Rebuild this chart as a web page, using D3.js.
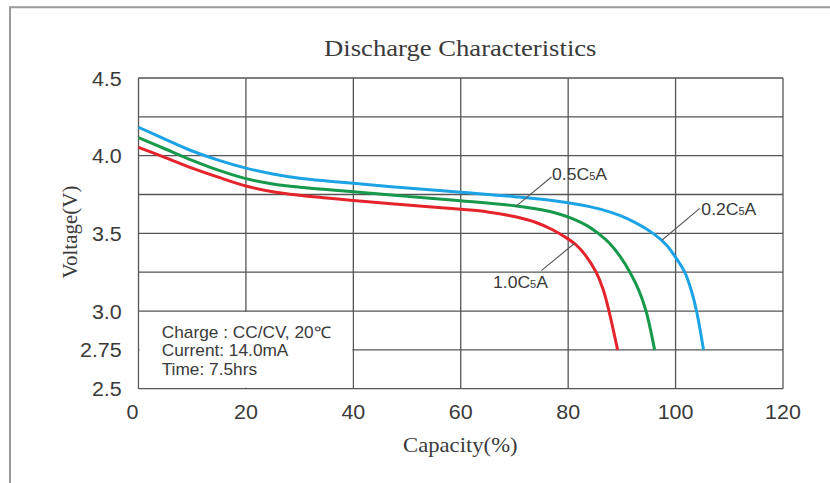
<!DOCTYPE html>
<html>
<head>
<meta charset="utf-8">
<script src="https://cdn.jsdelivr.net/npm/d3@7"></script>
<style>
  html, body { margin: 0; padding: 0; background: #fff; }
  svg { display: block; }
</style>
</head>
<body>
<svg id="chart" width="830" height="483"></svg>
<script>
// ---------- DATA ----------
const xTicks = [0, 20, 40, 60, 80, 100, 120];
const yGrid = [2.5, 2.75, 3.0, 3.25, 3.5, 3.75, 4.0, 4.25, 4.5];
const yTickLabels = ["4.5", "4.0", "3.5", "3.0", "2.75", "2.5"];

// 0.2C5A (blue)
const capBlue = [0, 5, 10, 15, 20, 25, 30, 35, 40, 50, 60, 70, 78, 84, 88, 91, 95.8, 98.3, 100.1, 101.7, 102.9, 103.9, 105.2];
const voltBlue = [4.183, 4.105, 4.03, 3.97, 3.92, 3.882, 3.855, 3.837, 3.822, 3.792, 3.764, 3.736, 3.707, 3.672, 3.635, 3.595, 3.50, 3.425, 3.34, 3.25, 3.135, 3.0, 2.75];
// 0.5C5A (green)
const capGreen = [0, 5, 10, 15, 20, 25, 30, 35, 40, 50, 60, 70, 75, 78, 81, 83.5, 85.6, 87.7, 89.7, 91.5, 93.2, 94.5, 96.1];
const voltGreen = [4.116, 4.043, 3.97, 3.905, 3.852, 3.818, 3.797, 3.782, 3.768, 3.738, 3.71, 3.678, 3.652, 3.628, 3.592, 3.55, 3.50, 3.436, 3.35, 3.25, 3.13, 3.0, 2.75];
// 1.0C5A (red)
const capRed = [0, 5, 10, 15, 20, 25, 30, 35, 40, 50, 60, 65, 70, 74, 77, 79.5, 81.5, 83.2, 85.2, 86.5, 87.6, 89.2];
const voltRed = [4.054, 3.988, 3.92, 3.86, 3.805, 3.768, 3.745, 3.728, 3.712, 3.682, 3.655, 3.638, 3.608, 3.57, 3.525, 3.475, 3.425, 3.36, 3.25, 3.14, 3.0, 2.75];

const seriesNames = ["0.2C5A", "0.5C5A", "1.0C5A"];
const seriesColors = ["#1ba3e6", "#16994b", "#e4232b"];

// annotation: [from cap, from V, to cap, to V, text cap, text V]
const annoBlue = [97.5, 3.457, 104.5, 3.661, 104.8, 3.618];
const annoGreen = [70.2, 3.672, 76.9, 3.863, 77.0, 3.843];
const annoRed = [81.2, 3.436, 75.0, 3.26, 66.0, 3.148];

const infoLines = ["Charge : CC/CV, 20\u2103", "Current: 14.0mA", "Time: 7.5hrs"];

// ---------- DRAW ----------
const svg = d3.select("#chart");
const x = d3.scaleLinear().domain([0, 120]).range([138.5, 783]);
const y = d3.scaleLinear().domain([2.5, 4.5]).range([388.7, 78]);
const SX = 1.1;
const gridColor = "#555";
const textColor = "#3a3a3a";

// outer frame
svg.append("path")
  .attr("d", "M10,483 L10,7.3 L830,7.3")
  .attr("fill", "none").attr("stroke", "#9a9a9a").attr("stroke-width", 2);

// grid
const g = svg.append("g");
g.selectAll("line.h").data(yGrid).enter().append("line")
  .attr("x1", x(0)).attr("x2", x(120))
  .attr("y1", d => y(d)).attr("y2", d => y(d))
  .attr("stroke", gridColor).attr("stroke-width", 1.3);
g.selectAll("line.v").data(xTicks).enter().append("line")
  .attr("x1", d => x(d)).attr("x2", d => x(d))
  .attr("y1", y(2.5)).attr("y2", y(4.5))
  .attr("stroke", gridColor).attr("stroke-width", 1.3);

// info box (white area hiding inner grid lines)
g.append("rect")
  .attr("x", x(0) + 1).attr("y", y(3.0) + 1)
  .attr("width", x(40) - x(0) - 2).attr("height", y(2.5) - y(3.0) - 2)
  .attr("fill", "#fff");

function txt(parent, px, py, str, opts) {
  const t = parent.append("text")
    .attr("transform", `translate(${px},${py}) scale(${opts.sx || SX},1)`)
    .attr("font-family", opts.family || "'Liberation Sans', Arial, sans-serif")
    .attr("font-size", opts.size)
    .attr("fill", textColor)
    .attr("text-anchor", opts.anchor || "start");
  if (str !== null) t.text(str);
  return t;
}

infoLines.forEach((s, i) => {
  txt(svg, 161.7, 337.7 + i * 18.7, s, { size: 16, sx: 1.08 });
});

// curves
const line = d3.line().x(d => x(d[0])).y(d => y(d[1])).curve(d3.curveCatmullRom.alpha(0.5));
const series = [
  d3.zip(capBlue, voltBlue),
  d3.zip(capGreen, voltGreen),
  d3.zip(capRed, voltRed)
];
series.forEach((pts, i) => {
  svg.append("path").datum(pts)
    .attr("d", line)
    .attr("fill", "none")
    .attr("stroke", seriesColors[i])
    .attr("stroke-width", 3)
    .attr("stroke-linejoin", "round");
});

// annotations
[annoBlue, annoGreen, annoRed].forEach((a, i) => {
  svg.append("line")
    .attr("x1", x(a[0])).attr("y1", y(a[1]))
    .attr("x2", x(a[2])).attr("y2", y(a[3]))
    .attr("stroke", "#555").attr("stroke-width", 1.1);
  const name = seriesNames[i];
  const t = txt(svg, x(a[4]), y(a[5]), null, { size: 16 });
  t.append("tspan").text(name.slice(0, 4));
  t.append("tspan").attr("font-size", 10).text(name.slice(4, 5));
  t.append("tspan").text(name.slice(5));
});

// y tick labels
yTickLabels.forEach(s => {
  txt(svg, 121.7, y(+s) + 7.5, s, { size: 19.5, anchor: "end" });
});
// x tick labels
xTicks.forEach(v => {
  const px = v === 0 ? x(v) - 6 : x(v);
  txt(svg, px, 419.3, String(v), { size: 19.5, anchor: "middle" });
});

// title and axis titles
const serif = "'Liberation Serif', 'Times New Roman', serif";
txt(svg, 460.3, 56, "Discharge Characteristics", { size: 24, sx: 1.11, family: serif, anchor: "middle" });
txt(svg, 460.3, 451.7, "Capacity(%)", { size: 21, sx: 1.08, family: serif, anchor: "middle" });
svg.append("text")
  .attr("transform", "translate(77,232) rotate(-90)")
  .attr("font-family", serif).attr("font-size", 21)
  .attr("fill", textColor).attr("text-anchor", "middle")
  .text("Voltage(V)");
</script>
</body>
</html>
